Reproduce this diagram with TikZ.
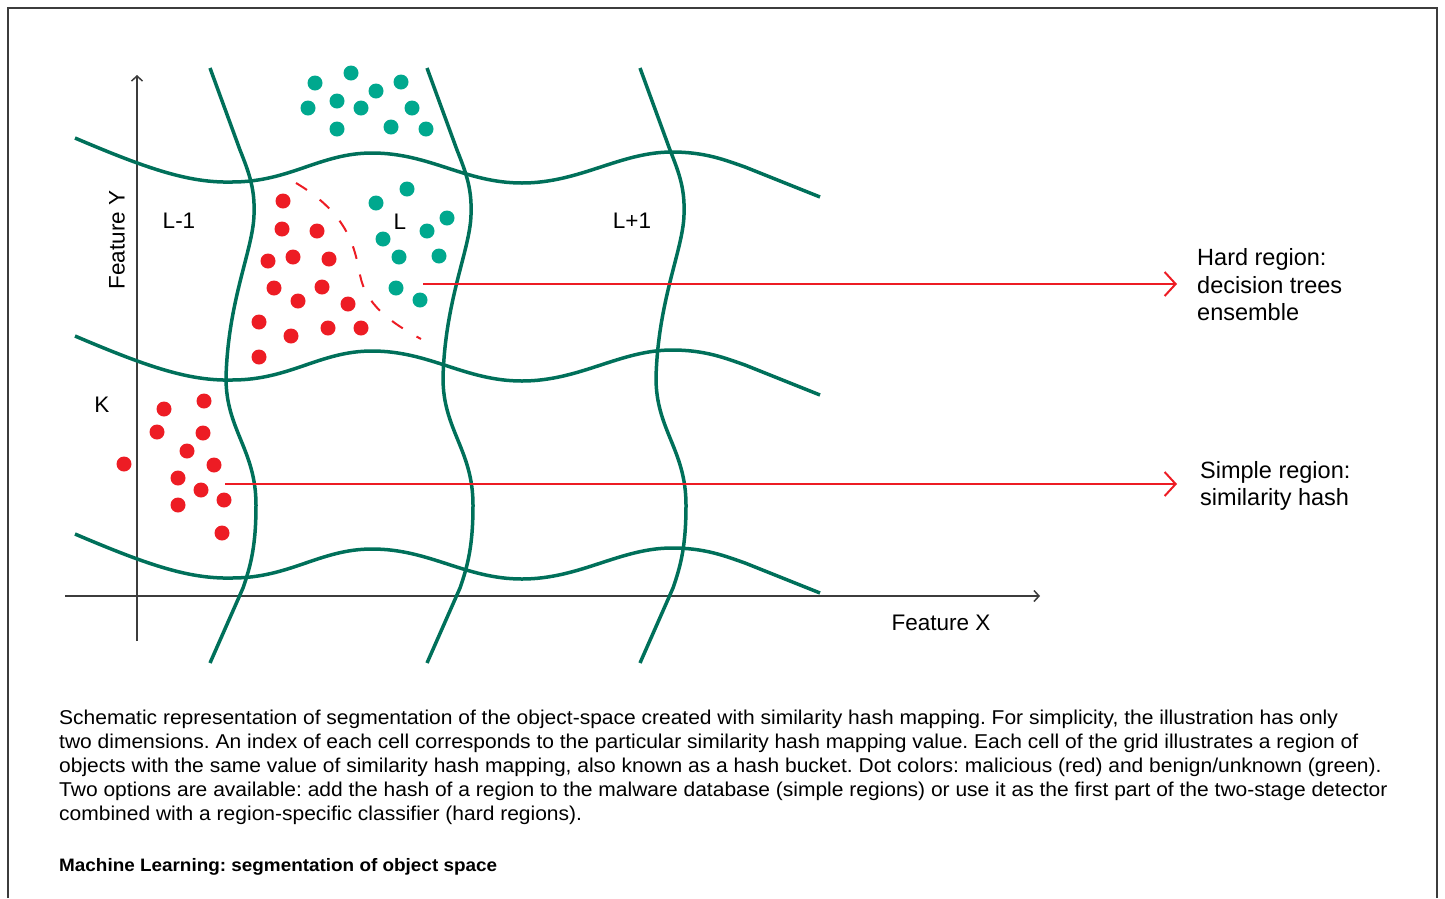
\documentclass[tikz,border=0pt]{standalone}
\usepackage{fontspec}
\setmainfont{Liberation Sans}
\newfontfamily\widesans[FakeStretch=1.05]{Liberation Sans}
\usetikzlibrary{arrows.meta}
\definecolor{gridgreen}{RGB}{0,112,90}
\definecolor{dotgreen}{RGB}{0,168,142}
\definecolor{malred}{RGB}{237,28,36}
\definecolor{axisgray}{RGB}{60,60,60}
\tikzset{
  gridline/.style={gridgreen, line width=3.5pt},
  axis/.style={axisgray, line width=1.5pt, -{Straight Barb[length=5pt,width=11pt]}},
  pointer/.style={malred, line width=2pt, -{Straight Barb[length=11pt,width=24pt]}},
  celllabel/.style={font=\fontsize{22.5}{26}\selectfont, inner sep=0pt},
  note/.style={font=\fontsize{23.5}{27.5}\selectfont, align=left, inner sep=0pt, anchor=west},
}
\frenchspacing
\begin{document}
\begin{tikzpicture}[x=1pt,y=-1pt]
\useasboundingbox (0,0) rectangle (1445,898);
\draw[axisgray, line width=2pt] (8,898) -- (8,8) -- (1437,8) -- (1437,898);
\draw[axis] (137,641) -- (137,75);
\draw[axis] (65,596) -- (1040,596);
\foreach \dy in {0,198,396}
  \draw[gridline, shift={(0,\dy)}] (75,138) .. controls (150,170) and (190,183) .. (232,182)
    .. controls (290,182) and (320,153) .. (372,153) .. controls (430,153) and (465,183) .. (522,183)
    .. controls (580,183) and (620,152) .. (672,152) .. controls (705,152) and (725,160) .. (745,167) -- (820,197);
\foreach \dx in {0,217,430}
  \draw[gridline, shift={(\dx,0)}] (210,68) -- (240,150) .. controls (250,175) and (255,190) .. (254,215)
    .. controls (253,250) and (228,300) .. (226,378) .. controls (226,430) and (256,450) .. (256,505)
    .. controls (256,545) and (251,565) .. (243,588) -- (210,663);
\foreach \x/\y in {315/83,351/73,376/91,401/82,308/108,337/101,361/108,412/108,337/129,391/127,426/129,
  407/189,376/203,447/218,383/239,427/231,399/257,439/256,396/288,420/300}
  \fill[dotgreen] (\x,\y) circle (7.5pt);
\foreach \x/\y in {283/201,282/229,317/231,268/261,293/257,329/259,274/288,322/287,298/301,348/304,
  259/322,291/336,328/328,361/328,259/357,
  204/401,164/409,157/432,203/433,187/451,124/464,214/465,178/478,201/490,224/500,178/505,222/533}
  \fill[malred] (\x,\y) circle (7.5pt);
\draw[malred, line width=2pt, dash pattern=on 13pt off 16pt] (296,183) .. controls (350,215) and (355,250) .. (360,275)
  .. controls (366,305) and (390,322) .. (421,339);
\node[celllabel, rotate=90] (feaY) at (117,240) {Feature Y};
\node[celllabel] (feaX) at (941,623) {Feature X};
\node[celllabel] (cellLm) at (179,221) {L-1};
\node[celllabel] (cellL) at (400,222) {L};
\node[celllabel] (cellLp) at (632,221) {L+1};
\node[celllabel] (cellK) at (102,405) {K};
\node[note] (hard) at (1197,285) {Hard region:\\decision trees\\ensemble};
\node[note] (simple) at (1200,486) {Simple region:\\similarity hash};
\coordinate (hardstart) at (423,284);
\coordinate (hardend) at (1177,284);
\coordinate (simplestart) at (225,484);
\coordinate (simpleend) at (1177,484);
\draw[pointer] (hardstart) -- (hardend);
\draw[pointer] (simplestart) -- (simpleend);
\node[anchor=north west, inner sep=0pt, align=left, font=\widesans\fontsize{20}{24}\selectfont] (caption) at (59,710)
  {Schematic representation of segmentation of the object-space created with similarity hash mapping. For simplicity, the illustration has only\\
   two dimensions. An index of each cell corresponds to the particular similarity hash mapping value. Each cell of the grid illustrates a region of\\
   objects with the same value of similarity hash mapping, also known as a hash bucket. Dot colors: malicious (red) and benign/unknown (green).\\
   Two options are available: add the hash of a region to the malware database (simple regions) or use it as the first part of the two-stage detector\\
   combined with a region-specific classifier (hard regions).};
\node[anchor=base west, inner sep=0pt, font=\widesans\fontsize{18}{20}\selectfont\bfseries] (title) at (59,871)
  {Machine Learning: segmentation of object space};
\end{tikzpicture}
\end{document}
